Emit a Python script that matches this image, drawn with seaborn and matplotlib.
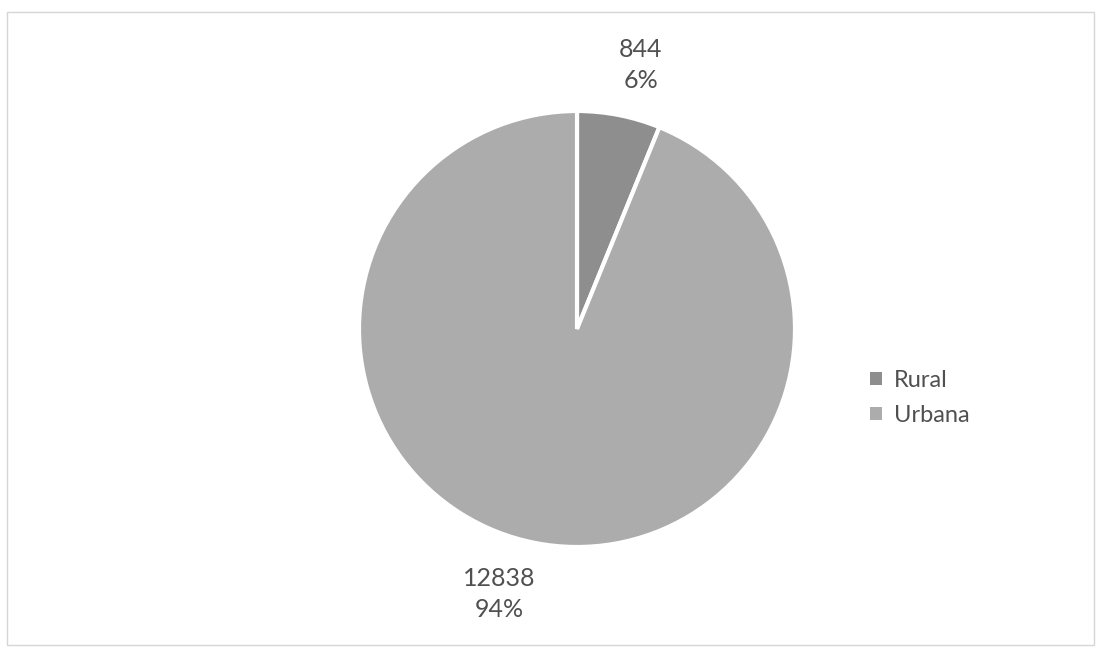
import matplotlib
matplotlib.use("Agg")
import matplotlib.pyplot as plt
import seaborn as sns
from matplotlib.patches import Rectangle, Patch

categories = ["Rural", "Urbana"]
values = [844, 12838]
pct_labels = ["6%", "94%"]

sns.set_theme(style="white")
plt.rcParams['font.family'] = ['Lato', 'DejaVu Sans']

colors = ["#8e8e8e", "#acacac"]
text_color = "#505050"

W, H = 1099, 655
fig = plt.figure(figsize=(W / 100, H / 100), dpi=100)

cx, cy, r = 577, 329, 218
ax = fig.add_axes([(cx - r) / W, (H - cy - r) / H, 2 * r / W, 2 * r / H])
wedges, _ = ax.pie(values, colors=colors, startangle=90, counterclock=False,
                   radius=1, wedgeprops=dict(edgecolor="white", linewidth=3))
ax.set_xlim(-1, 1)
ax.set_ylim(-1, 1)
ax.set_aspect("equal")
ax.axis("off")

# data labels (in figure pixel coords)
label_pos = [(641, 65), (499, 594)]
for (x, y), v, p in zip(label_pos, values, pct_labels):
    fig.text(x / W, 1 - y / H, f"{v}\n{p}", ha="center", va="center",
             fontsize=18, color=text_color, linespacing=1.4)

handles = [Patch(facecolor=c, edgecolor="none") for c in colors]
fig.legend(handles, categories, loc="center left",
           bbox_to_anchor=(870 / W, 1 - 398 / H), frameon=False,
           borderaxespad=0, borderpad=0,
           fontsize=17, handlelength=0.5, handleheight=0.5, handletextpad=0.5,
           labelspacing=0.6, labelcolor=text_color)

fig.patches.append(Rectangle((7 / W, 1 - 645 / H), (1094 - 7) / W, (645 - 12) / H,
                             transform=fig.transFigure, fill=False,
                             edgecolor="#d6d6d6", linewidth=1))

fig.savefig("out.png", dpi=100)
